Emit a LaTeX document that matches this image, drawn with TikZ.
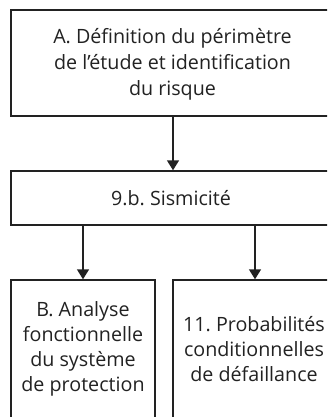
\documentclass[tikz,border=0pt]{standalone}
\usepackage{fontspec}
\setmainfont{Open Sans}
\usetikzlibrary{arrows.meta}
\definecolor{ink}{HTML}{222222}
\frenchspacing
\tikzset{
  box/.style={draw=ink, line width=1.4pt, rectangle, inner sep=0pt, fill=white},
  lbl/.style={align=center, text=ink, anchor=base, inner sep=0pt},
  conn/.style={draw=ink, line width=1.4pt, -{Triangle[width=12pt,length=10pt]}}
}
\begin{document}
\begin{tikzpicture}[x=1pt,y=-1pt]
\useasboundingbox (0,0) rectangle (327,417);
\clip (0,0) rectangle (327,417);
\node[box, minimum width=324pt, minimum height=106pt] (top) at (173,63) {};
\node[lbl, font=\fontsize{19.7}{26}\selectfont] (toplbl) at (172.5,95.3) {A. Définition du périmètre\\de l’étude et identification\\du risque};
\node[box, minimum width=324pt, minimum height=54pt] (mid) at (173,198) {};
\node[lbl, font=\fontsize{19.7}{26}\selectfont] (midlbl) at (171,205) {9.b. Sismicité};
\node[box, minimum width=144pt, minimum height=140pt] (bl) at (83,350) {};
\node[lbl, font=\fontsize{19.7}{25}\selectfont] (bllbl) at (83,391.7) {B. Analyse\\fonctionnelle\\du système\\de protection};
\node[box, minimum width=164pt, minimum height=140pt] (br) at (255,350) {};
\node[lbl, font=\fontsize{19.7}{25}\selectfont] (brlbl) at (254,381.7) {11. Probabilités\\conditionnelles\\de défaillance};
\draw[conn] (top.south) -- (mid.north);
\draw[conn] (mid.south -| bl.north) -- (bl.north);
\draw[conn] (mid.south -| br.north) -- (br.north);
\end{tikzpicture}
\end{document}
